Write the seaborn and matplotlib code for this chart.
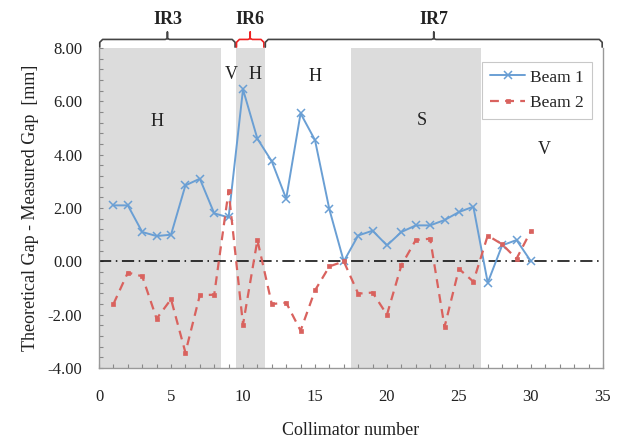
import numpy as np
import pandas as pd
import seaborn as sns
import matplotlib.pyplot as plt
import matplotlib.transforms as mtransforms
from matplotlib.ticker import MultipleLocator, FormatStrFormatter

sns.set_style("white")
plt.rcParams['font.family'] = ['Liberation Serif', 'DejaVu Serif']

collimator = list(range(1, 31))
beam1 = [2.1, 2.1, 1.1, 0.95, 1.0, 2.85, 3.1, 1.8, 1.65, 6.45,
         4.6, 3.75, 2.35, 5.55, 4.55, 1.95, 0.0, 0.97, 1.15, 0.6,
         1.1, 1.35, 1.35, 1.55, 1.85, 2.05, -0.8, 0.6, 0.8, 0.0]
beam2 = [-1.6, -0.42, -0.56, -2.15, -1.42, -3.42, -1.27, -1.25, 2.65, -2.37,
         0.8, -1.6, -1.55, -2.6, -1.09, -0.19, 0.0, -1.21, -1.17, -2.0,
         -0.15, 0.8, 0.85, -2.46, -0.28, -0.76, 0.97, 0.64, 0.1, 1.14]

# shaded bands (start, end)
bands = [(0, 8.5), (9.5, 11.5), (17.5, 26.5)]
# plane labels: (x, y, text)
planes = [(4.0, 5.25, "H"), (9.2, 7.0, "V"), (10.8, 7.0, "H"),
          (15.0, 6.95, "H"), (22.4, 5.3, "S"), (30.9, 4.2, "V")]
# insertion regions: (start, end, label, colour)
regions = [(0, 9.5, "IR3", "#444444"), (9.5, 11.5, "IR6", "#ee2222"),
           (11.5, 35, "IR7", "#444444")]

blue = "#6a9fd4"
red = "#d9625e"

fig = plt.figure(figsize=(6.19, 4.41), dpi=100)
ax = fig.add_axes([0.16, 0.1655, 0.814, 0.7255])

for a, b in bands:
    ax.axvspan(a, b, color="#dcdcdc", lw=0, zorder=0)

ax.axhline(0, color="black", lw=1.1, ls=(0, (8, 3, 1, 3)), zorder=1)

sns.lineplot(x=collimator, y=beam1, color=blue, marker="x",
             markersize=6, markeredgewidth=1.1, markeredgecolor=blue,
             lw=1.4, label="Beam 1", ax=ax, zorder=3)
sns.lineplot(x=collimator, y=beam2, color=red, marker="s",
             markersize=3.5, markeredgewidth=0.5, markeredgecolor=red,
             lw=1.6, ls=(0, (4, 2.8)), label="Beam 2", ax=ax, zorder=3)

leg = ax.legend(loc="upper right", fontsize=12.5,
                frameon=True, fancybox=False, edgecolor="#bbbbbb",
                handlelength=2.0, handletextpad=0.3, labelspacing=0.55,
                borderpad=0.45, bbox_to_anchor=(0.995, 0.985))
leg.get_frame().set_linewidth(0.8)

for x, y, t in planes:
    ax.text(x, y, t, fontsize=13, ha="center", va="center", color="#222222")

ax.set_xlim(0, 35)
ax.set_ylim(-4, 8)
ax.xaxis.set_major_locator(MultipleLocator(5))
ax.xaxis.set_minor_locator(MultipleLocator(1))
ax.yaxis.set_major_locator(MultipleLocator(2))
ax.yaxis.set_minor_locator(MultipleLocator(0.4))
ax.yaxis.set_major_formatter(FormatStrFormatter("%.2f"))
ax.tick_params(which="both", direction="in", length=3, width=0.8,
               color="#888888", bottom=True, left=True,
               labelsize=12, labelcolor="#222222")
ax.tick_params(axis="x", pad=15)
ax.tick_params(axis="y", pad=12)
for s in ax.spines.values():
    s.set_color("#999999")
    s.set_linewidth(1.0)
ax.spines["top"].set_visible(False)

ax.set_xlabel("Collimator number", fontsize=13, labelpad=12, color="#222222")
ax.set_ylabel("Theoretical Gap - Measured Gap  [mm]", fontsize=13,
              labelpad=6, color="#222222")

# curly brackets over the insertion regions
trans = mtransforms.blended_transform_factory(ax.transData, ax.transAxes)
for a, b, lab, col in regions:
    m = (a + b) / 2
    xs = [a + 0.05, a + 0.05, a + 0.25, m - 0.15, m, m, m, m + 0.15, b - 0.25, b - 0.05, b - 0.05]
    ys = [1.003, 1.018, 1.027, 1.027, 1.03, 1.05, 1.03, 1.027, 1.027, 1.018, 1.003]
    ax.plot(xs, ys, color=col, lw=1.2, transform=trans, clip_on=False)
    ax.text(m, 1.09, lab, transform=trans, ha="center", va="center",
            fontsize=13, fontweight="bold", color="#222222")

fig.savefig("out.png", dpi=100)
